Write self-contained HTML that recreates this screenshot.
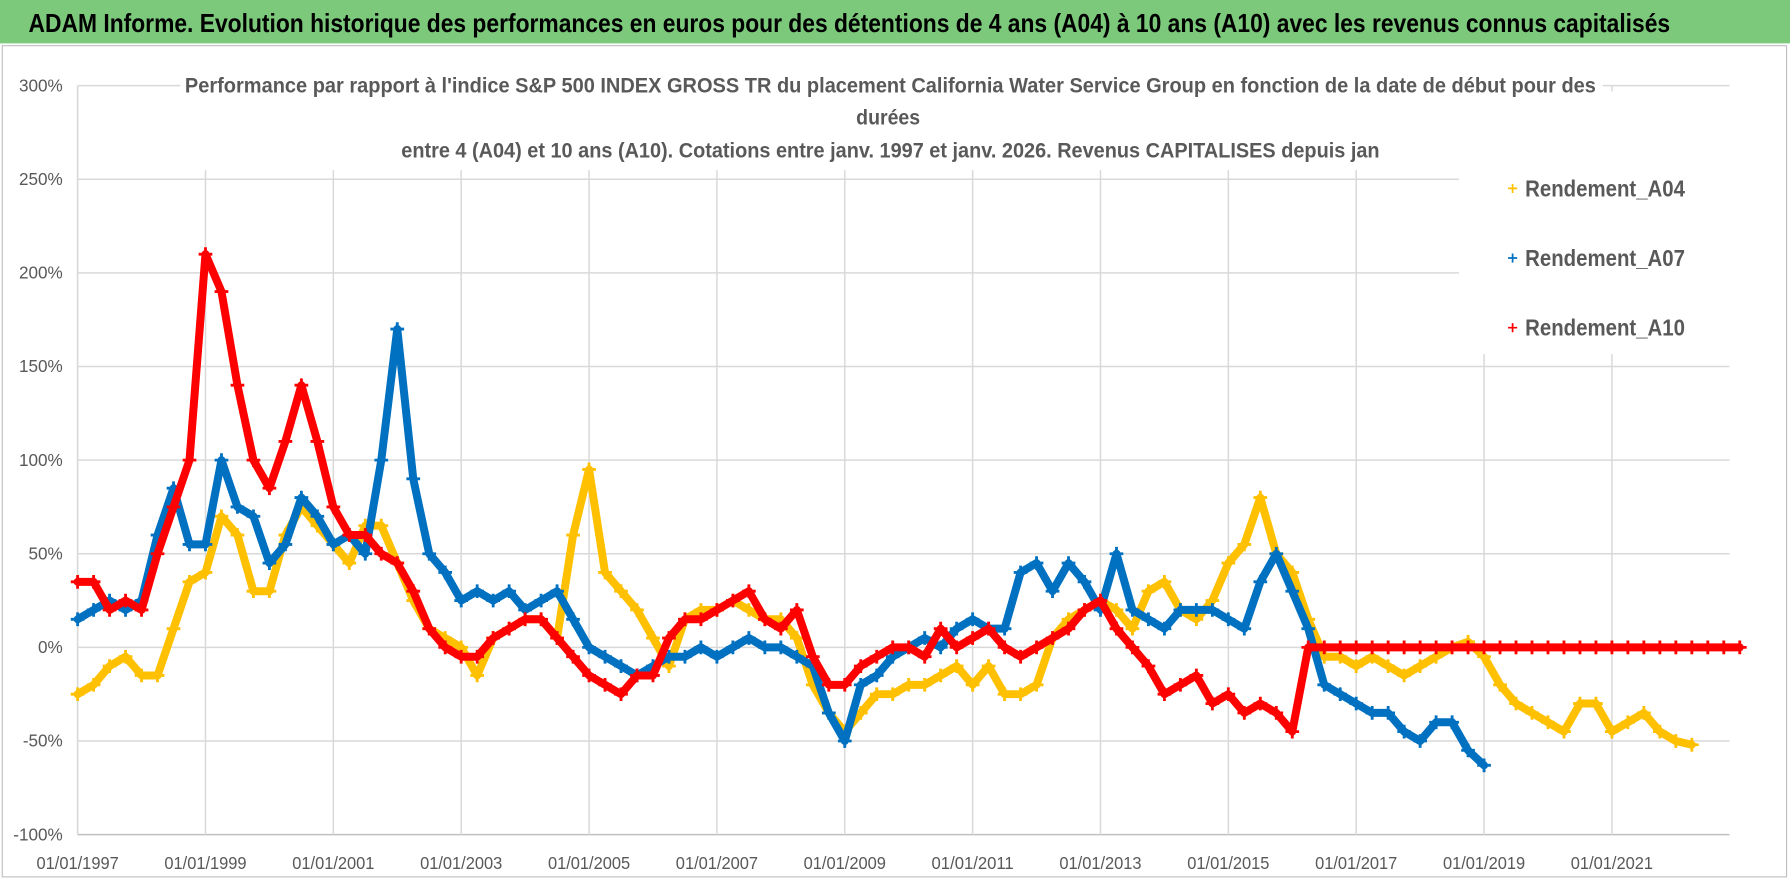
<!DOCTYPE html>
<html><head><meta charset="utf-8"><style>
html,body{margin:0;padding:0;background:#fff;}
svg{display:block;font-family:"Liberation Sans",sans-serif;}
</style></head><body>
<svg id="chart" width="1790" height="886" viewBox="0 0 1568 776" preserveAspectRatio="none" xmlns="http://www.w3.org/2000/svg">
<rect x="0" y="0" width="1568" height="776" fill="#fff"/>
<rect x="0" y="0" width="1568" height="38" fill="#7cc97c"/>
<text x="744" y="28" text-anchor="middle" font-size="23" font-weight="bold" fill="#000" textLength="1438" lengthAdjust="spacingAndGlyphs">ADAM Informe. Evolution historique des performances en euros pour des détentions de 4 ans (A04) à 10 ans (A10) avec les revenus connus capitalisés</text>
<rect x="2" y="40" width="1563" height="728" fill="none" stroke="#bfbfbf" stroke-width="1"/>
<g id="grid"></g>
<g id="marks"></g>
<rect x="158" y="60" width="1246" height="89" fill="#fff"/>
<rect x="1278" y="80" width="240" height="230" fill="#fff"/>
<g font-size="19" font-weight="bold" fill="#595959" text-anchor="middle">
<text x="780" y="81" textLength="1236" lengthAdjust="spacingAndGlyphs">Performance par rapport à l'indice S&amp;P 500 INDEX GROSS TR  du placement California Water Service Group en fonction de la date de début pour des</text>
<text x="778" y="109" textLength="56" lengthAdjust="spacingAndGlyphs">durées</text>
<text x="780" y="138" textLength="857" lengthAdjust="spacingAndGlyphs">entre 4 (A04) et 10 ans (A10). Cotations entre janv. 1997 et janv. 2026. Revenus CAPITALISES depuis jan</text>
</g>
<g id="legend" font-size="20" font-weight="bold" fill="#595959"></g>
<g id="axes" font-size="15" fill="#595959"></g>
</svg>
<script>
const startYear = 1997;
const step = 0.25;
const yTicks = [300,250,200,150,100,50,0,-50,-100];
const xTickYears = [1997,1999,2001,2003,2005,2007,2009,2011,2013,2015,2017,2019,2021];
const seriesNames = ["Rendement_A04","Rendement_A07","Rendement_A10"];
const a04 = [-25,-20,-10,-5,-15,-15,10,35,40,70,60,30,30,60,75,65,55,45,65,65,45,25,10,5,0,-15,5,10,15,15,5,60,95,40,30,20,5,-10,15,20,20,25,20,15,15,5,-20,-35,-45,-35,-25,-25,-20,-20,-15,-10,-20,-10,-25,-25,-20,5,15,20,25,20,10,30,35,20,15,25,45,55,80,50,40,15,-5,-5,-10,-5,-10,-15,-10,-5,0,3,-5,-20,-30,-35,-40,-45,-30,-30,-45,-40,-35,-45,-50,-52];
const a07 = [15,20,25,20,25,60,85,55,55,100,75,70,45,55,80,70,55,60,50,100,170,90,50,40,25,30,25,30,20,25,30,15,0,-5,-10,-15,-10,-5,-5,0,-5,0,5,0,0,-5,-10,-35,-50,-20,-15,-5,0,5,0,10,15,10,10,40,45,30,45,35,20,50,20,15,10,20,20,20,15,10,35,50,30,10,-20,-25,-30,-35,-35,-45,-50,-40,-40,-55,-63];
const a10 = [35,35,20,25,20,50,75,100,210,190,140,100,85,110,140,110,75,60,60,50,45,30,10,0,-5,-5,5,10,15,15,5,-5,-15,-20,-25,-15,-15,5,15,15,20,25,30,15,10,20,-5,-20,-20,-10,-5,0,0,-5,10,0,5,10,0,-5,0,5,10,20,25,10,0,-10,-25,-20,-15,-30,-25,-35,-30,-35,-45,0,0,0,0,0,0,0,0,0,0,0,0,0,0,0,0,0,0,0,0,0,0,0,0,0,0,0,0];
const NS = "http://www.w3.org/2000/svg";
const X0 = 68, PX_PER_YEAR = 56, Y0 = 567, PX_PER_PCT = 1.64, XR = 1515;
function xs(yr){ return X0 + (yr - startYear) * PX_PER_YEAR; }
function ys(v){ return Y0 - v * PX_PER_PCT; }
function mk(tag, attrs, parent){ const e = document.createElementNS(NS, tag); for (const k in attrs) e.setAttribute(k, attrs[k]); parent.appendChild(e); return e; }
const grid = document.getElementById('grid');
const axes = document.getElementById('axes');
const marks = document.getElementById('marks');
const legend = document.getElementById('legend');
yTicks.forEach(v => {
  const l = mk('line', {x1: X0, x2: XR, y1: ys(v), y2: ys(v), stroke: v === -100 ? '#bfbfbf' : '#d9d9d9', 'stroke-width': 1.3}, grid);
  
  
  const t = mk('text', {x: 55, y: ys(v) + 5, 'text-anchor': 'end'}, axes);
  t.textContent = v + '%';
  
  
});
mk('line', {x1: X0, x2: X0, y1: ys(300), y2: ys(-100), stroke: '#d9d9d9', 'stroke-width': 1.3}, grid);
xTickYears.forEach(yr => {
  const l = mk('line', {x1: xs(yr), x2: xs(yr), y1: ys(300), y2: ys(-100), stroke: '#d9d9d9', 'stroke-width': 1.3}, grid);
  
  
  const t = mk('text', {x: xs(yr), y: 761, 'text-anchor': 'middle', 'font-size': 15, textLength: 72, lengthAdjust: 'spacingAndGlyphs'}, axes);
  t.textContent = '01/01/' + yr;
  
  
});
const colors = ['#ffc000', '#0070c0', '#ff0000'];
const seriesData = [a04, a07, a10];
seriesData.forEach((arr, si) => {
  const g = mk('g', {}, marks);
  
  
  const pts = arr.map((v, i) => xs(startYear + i * step).toFixed(1) + ',' + ys(v).toFixed(1)).join(' ');
  const pl = mk('polyline', {points: pts, fill: 'none', stroke: colors[si], 'stroke-width': 7, 'stroke-linejoin': 'round', 'stroke-linecap': 'round'}, g);
  
  
  arr.forEach((v, i) => {
    const x = xs(startYear + i * step), y = ys(v);
    const p = mk('path', {d: `M${x-6},${y}H${x+6}M${x},${y-6}V${y+6}`, stroke: colors[si], 'stroke-width': 2.5}, g);
    
    
  });
});
seriesNames.forEach((n, i) => {
  const y = 165 + i * 61;
  const g = mk('g', {}, legend);
  
  
  mk('path', {d: `M1321,${y}H1329M1325,${y-4}V${y+4}`, stroke: colors[i], 'stroke-width': 1.5}, g);
  const t = mk('text', {x: 1336, y: y + 7, textLength: 140, lengthAdjust: 'spacingAndGlyphs'}, g);
  t.textContent = n;
});
</script>
</body></html>
